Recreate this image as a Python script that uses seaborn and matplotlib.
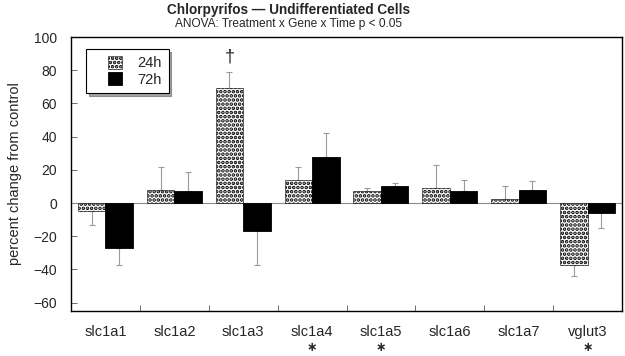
import numpy as np
import pandas as pd
import matplotlib
matplotlib.use("Agg")
import matplotlib.pyplot as plt
from matplotlib.ticker import FixedLocator
import seaborn as sns

genes = ["slc1a1", "slc1a2", "slc1a3", "slc1a4", "slc1a5", "slc1a6", "slc1a7", "vglut3"]
times = ["24h", "72h"]
vals_24h = [-5, 8, 69, 14, 7, 9, 2.5, -37]
vals_72h = [-27, 7, -17, 28, 10, 7, 8, -6]
err_24h = [8, 14, 10, 8, 2, 14, 7.5, 7]
err_72h = [10, 12, 20, 14, 2, 7, 5, 9]
star_genes = ["slc1a4", "slc1a5", "vglut3"]
dagger_gene = "slc1a3"

df = pd.DataFrame({
    "gene": genes * 2,
    "time": [times[0]] * len(genes) + [times[1]] * len(genes),
    "value": vals_24h + vals_72h,
})

sns.set_style("white")
plt.rcParams["font.family"] = ["Liberation Sans", "DejaVu Sans"]
plt.rcParams["hatch.linewidth"] = 1.8

fig = plt.figure(figsize=(6.25, 3.56), dpi=100)
ax = fig.add_axes([0.1136, 0.1264, 0.8816, 0.7696])

sns.barplot(data=df, x="gene", y="value", hue="time", order=genes, hue_order=times,
            palette={"24h": "white", "72h": "black"}, edgecolor="black", linewidth=0.6,
            width=0.8, errorbar=None, ax=ax, zorder=2)

# hatch the 24h bars, add one-sided error bars
for cont, errs, vals in zip(ax.containers, [err_24h, err_72h], [vals_24h, vals_72h]):
    xs = []
    for bar in cont:
        xs.append(bar.get_x() + bar.get_width() / 2)
        if cont is ax.containers[0]:
            bar.set_hatch("....")
            bar.set_linewidth(0.4)
    lo = [e if v < 0 else 0 for v, e in zip(vals, errs)]
    hi = [e if v >= 0 else 0 for v, e in zip(vals, errs)]
    ax.errorbar(xs, vals, yerr=[lo, hi], fmt="none", ecolor="#9a9a9a", elinewidth=0.8,
                capsize=2.5, capthick=0.8, zorder=1)

ax.axhline(0, color="#8c8c8c", lw=0.8, zorder=1.5)

ax.set_xlim(-0.5, len(genes) - 0.5)
ax.set_ylim(-65, 100)
ax.set_yticks(range(-60, 101, 20))
ax.xaxis.set_minor_locator(FixedLocator(np.arange(0.5, len(genes) - 1, 1)))
ax.tick_params(axis="x", which="major", length=0, pad=10, labelsize=10.5)
ax.tick_params(axis="x", which="minor", direction="in", length=4, width=0.6, color="#555555", bottom=True)
ax.tick_params(axis="y", direction="in", length=4, width=0.6, color="#555555", left=True, pad=10, labelsize=10)
ax.set_xlabel("")
ax.set_ylabel("percent change from control", fontsize=10.5, labelpad=8)
for s in ax.spines.values():
    s.set_color("black")
    s.set_linewidth(1.0)

leg = ax.legend(loc="upper left", bbox_to_anchor=(0.027, 0.956), frameon=True, fancybox=False,
                shadow=True, fontsize=10.5, handlelength=1.0, handleheight=1.0, borderpad=0.45,
                labelspacing=0.15, handletextpad=2.1, borderaxespad=0, title=None)
leg.get_frame().set_edgecolor("black")
leg.get_frame().set_linewidth(0.8)
for h in leg.legend_handles:
    h.set_x(h.get_x() + 11)
leg.legend_handles[0].set_hatch("....")
leg.legend_handles[0].set_linewidth(0.4)

# significance markers
gi = genes.index(dagger_gene)
ax.text(ax.containers[0][gi].get_x() + ax.containers[0][gi].get_width() / 2,
        vals_24h[gi] + err_24h[gi] + 4, "\u2020", ha="center", va="bottom", fontsize=13)
for g in star_genes:
    ax.text(genes.index(g), -0.133, "\u2217", transform=ax.get_xaxis_transform(),
            ha="center", va="center", fontsize=9, fontweight="bold", family="DejaVu Sans")

fig.text(0.461, 0.972, "Chlorpyrifos \u2014 Undifferentiated Cells", ha="center", va="center",
         fontsize=9.8, fontweight="bold")
fig.text(0.461, 0.932, "ANOVA: Treatment x Gene x Time p < 0.05", ha="center", va="center", fontsize=8.6)

fig.savefig("out.png", dpi=100)
